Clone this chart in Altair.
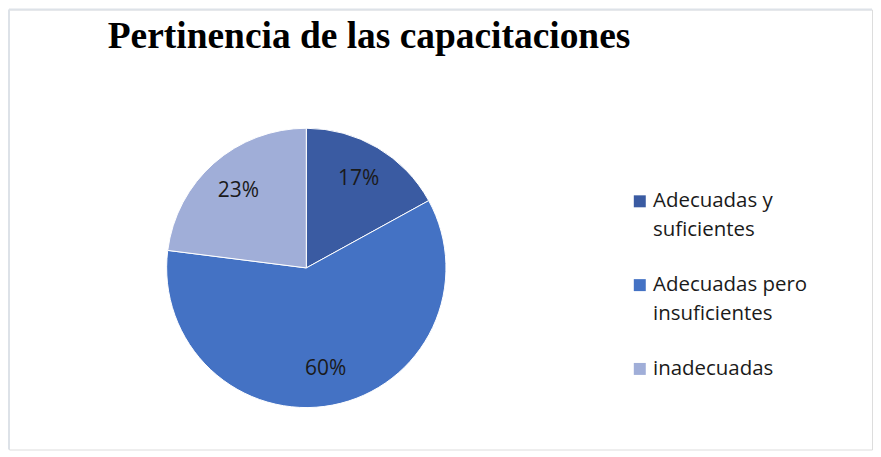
import altair as alt
import pandas as pd

categories = ["Adecuadas y suficientes", "Adecuadas pero insuficientes", "inadecuadas"]
values = [17, 60, 23]
labels = ["17%", "60%", "23%"]
order = [1, 2, 3]
colors = ["#3a5ba2", "#4472c4", "#a0aed8"]
legend_lines = {
    "Adecuadas y suficientes": ["Adecuadas y", "suficientes"],
    "Adecuadas pero insuficientes": ["Adecuadas pero", "insuficientes"],
    "inadecuadas": ["inadecuadas"],
}
title_text = "Pertinencia de las capacitaciones"

df = pd.DataFrame({"cat": categories, "val": values, "lab": labels, "ord": order})

W, H = 865, 441
CX, CY, R = 298, 259, 140

expr = "datum.label"
for k, v in reversed(list(legend_lines.items())):
    arr = "[" + ",".join("'" + s + "'" for s in v) + "]"
    expr = f"datum.label == '{k}' ? {arr} : ({expr})"

base = alt.Chart(df).encode(
    theta=alt.Theta("val:Q", stack=True),
    order=alt.Order("ord:Q"),
)

pie = base.mark_arc(outerRadius=R, stroke="white", strokeWidth=1).encode(
    x=alt.value(CX),
    y=alt.value(CY),
    color=alt.Color(
        "cat:N",
        scale=alt.Scale(domain=categories, range=colors),
        legend=alt.Legend(
            title=None,
            orient="none",
            legendX=622,
            legendY=182,
            symbolType="square",
            symbolSize=144,
            symbolStrokeWidth=0,
            labelFont="Open Sans",
            labelFontSize=20.5,
            labelColor="#1a1a1a",
            labelOffset=3,
            labelLimit=300,
            rowPadding=34,
            labelExpr=expr,
        ),
    ),
)

text = base.mark_text(radius=103, font="Open Sans", fontSize=21, color="#1a1a1a").encode(
    x=alt.value(CX),
    y=alt.value(CY),
    text="lab:N",
)

one = pd.DataFrame({"a": [0]})
top_rule = alt.Chart(one).mark_rule(color="#dde2e8", strokeWidth=2).encode(
    x=alt.value(0), x2=alt.value(W), y=alt.value(0)
)
left_rule = alt.Chart(one).mark_rule(color="#dde2e8", strokeWidth=2).encode(
    x=alt.value(0), y=alt.value(0), y2=alt.value(H)
)

chart = (
    alt.layer(top_rule, left_rule, pie, text)
    .properties(
        width=W,
        height=H,
        padding=0,
        title=alt.Title(
            title_text,
            anchor="start",
            dx=100,
            offset=-47,
            font="Liberation Serif",
            fontSize=37.5,
            fontWeight="bold",
            color="#000000",
        ),
    )
    .configure_view(stroke="transparent", strokeWidth=0)
    .configure(style={"guide-label": {"lineHeight": 29}})
)

chart.save("out.html", embed_options={"renderer": "svg", "actions": False})
